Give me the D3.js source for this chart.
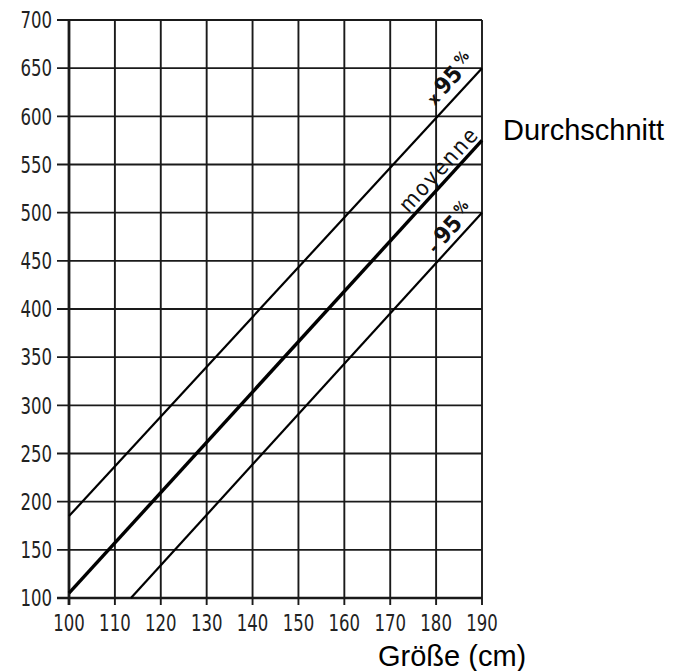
<!DOCTYPE html>
<html><head><meta charset="utf-8">
<script src="https://cdn.jsdelivr.net/npm/d3@7"></script>
<style>body{margin:0;background:#fff}</style>
</head><body>
<script>
const xTicks = [100,110,120,130,140,150,160,170,180,190];
const yTicks = [100,150,200,250,300,350,400,450,500,550,600,650,700];
const upperX = [100,190], upperY = [185,650];
const meanX = [100,190], meanY = [105,575];
const lowerX = [113.5,190], lowerY = [100,500];
const xTitle = "Größe (cm)";
const sideLabel = "Durchschnitt";

const W=680,H=671;
const svg=d3.select("body").append("svg").attr("width",W).attr("height",H);
const x=d3.scaleLinear().domain([100,190]).range([69,482]);
const y=d3.scaleLinear().domain([100,700]).range([598,20]);
const tickFont='"DejaVu Sans Condensed","DejaVu Sans",sans-serif';
const sx=0.8;

const g=svg.append("g");
g.selectAll("line.h").data(yTicks).join("line")
 .attr("x1",57).attr("x2",x(190)).attr("y1",d=>y(d)).attr("y2",d=>y(d))
 .attr("stroke","#1a1a1a").attr("stroke-width",d=>d===100?2.6:1.9);
g.selectAll("line.v").data(xTicks).join("line")
 .attr("x1",d=>x(d)).attr("x2",d=>x(d)).attr("y1",y(700)).attr("y2",y(100)+7)
 .attr("stroke","#1a1a1a").attr("stroke-width",d=>d===100?2.8:1.9);

svg.selectAll("text.yl").data(yTicks).join("text")
 .attr("transform",d=>`translate(52,${y(d)}) scale(${sx},1)`)
 .attr("dy","0.36em").attr("text-anchor","end")
 .attr("font-family",tickFont).attr("font-size",23).attr("fill","#222").text(d=>d);
svg.selectAll("text.xl").data(xTicks).join("text")
 .attr("transform",d=>`translate(${x(d)},631) scale(${sx},1)`)
 .attr("text-anchor","middle")
 .attr("font-family",tickFont).attr("font-size",23).attr("fill","#222").text(d=>d);

const series=[
 {xs:upperX,ys:upperY,w:2.2},
 {xs:meanX,ys:meanY,w:3.4},
 {xs:lowerX,ys:lowerY,w:2.2}
];
const line=d3.line().x(d=>x(d[0])).y(d=>y(d[1]));
series.forEach(s=>{
 svg.append("path").datum(d3.zip(s.xs,s.ys)).attr("d",line)
  .attr("fill","none").attr("stroke","#000").attr("stroke-width",s.w);
});

function labelOn(s,xv,off,build){
 const t=(xv-s.xs[0])/(s.xs[1]-s.xs[0]);
 const yv=s.ys[0]+t*(s.ys[1]-s.ys[0]);
 const ang=Math.atan2(y(s.ys[1])-y(s.ys[0]),x(s.xs[1])-x(s.xs[0]))*180/Math.PI;
 const tx=svg.append("text")
  .attr("transform",`translate(${x(xv)},${y(yv)}) rotate(${ang})`)
  .attr("y",off).attr("text-anchor","middle")
  .attr("font-family",'"DejaVu Sans Condensed","DejaVu Sans",sans-serif')
  .attr("font-weight","bold").attr("fill","#111");
 build(tx);
}
labelOn(series[0],185.6,-9,t=>{
 t.append("tspan").attr("font-size",16).text("x ");
 t.append("tspan").attr("font-size",23).text("95");
 t.append("tspan").attr("font-size",15).attr("dy",-8).attr("dx",4).text("%");
});
labelOn(series[1],182.6,-5,t=>{
 t.attr("font-weight","normal").attr("font-size",22).attr("letter-spacing",2).text("moyenne");
});
labelOn(series[2],185.2,-6,t=>{
 t.append("tspan").attr("font-size",18).text("- ");
 t.append("tspan").attr("font-size",23).text("95");
 t.append("tspan").attr("font-size",15).attr("dy",-8).attr("dx",4).text("%");
});

svg.append("text").attr("x",503).attr("y",140)
 .attr("font-family",'"Liberation Sans",Arial,sans-serif').attr("font-size",29).attr("fill","#000").text(sideLabel);
svg.append("text").attr("x",378).attr("y",666)
 .attr("font-family",'"Liberation Sans",Arial,sans-serif').attr("font-size",29).attr("fill","#000").text(xTitle);
</script>
</body></html>
